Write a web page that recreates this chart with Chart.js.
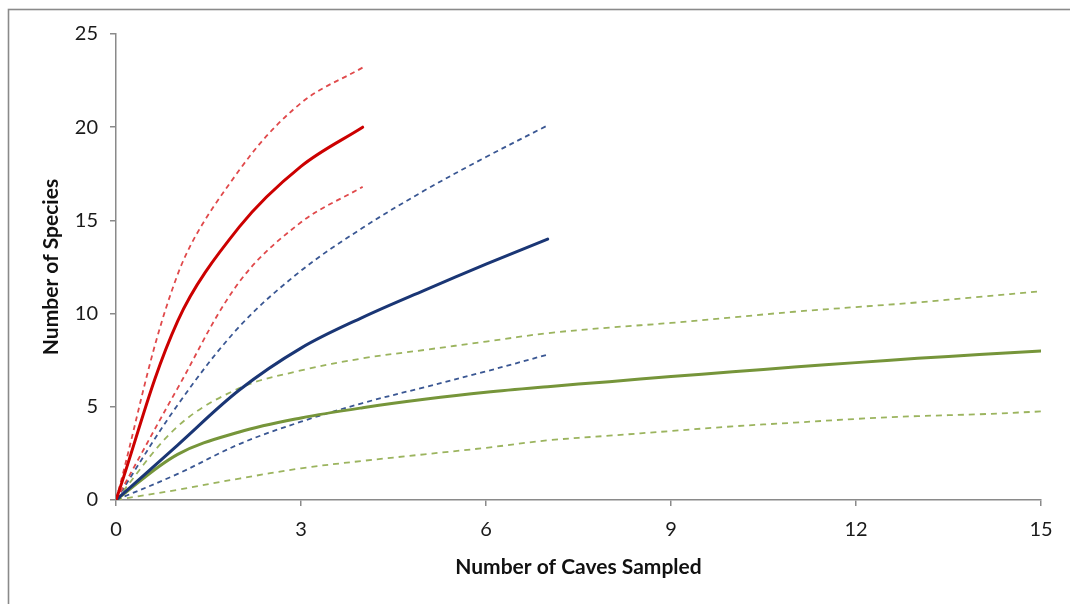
<!DOCTYPE html>
<html>
<head>
<meta charset="utf-8">
<script src="https://cdn.jsdelivr.net/npm/chart.js@4.4.1/dist/chart.umd.min.js"></script>
<style>
  html, body { margin: 0; padding: 0; background: #fff; }
  #wrap { width: 1070px; height: 604px; position: relative; }
</style>
</head>
<body>
<div id="wrap"><canvas id="c" width="1070" height="604"></canvas></div>
<script>
// ---- data ----
const xTicks = [0, 3, 6, 9, 12, 15];
const yTicks = [0, 5, 10, 15, 20, 25];

const redX     = [0, 1, 2, 3, 4];
const redMean  = [0, 9.6, 14.65, 17.9, 20.0];
const redUpper = [0, 12.1, 17.7, 21.3, 23.2];
const redLower = [0, 6.0, 11.7, 14.9, 16.8];

const blueX     = [0, 1, 2, 3, 4, 5, 6, 7];
const blueMean  = [0, 2.95, 5.9, 8.15, 9.8, 11.25, 12.65, 14.0];
const blueUpper = [0, 5.1, 9.3, 12.3, 14.6, 16.6, 18.4, 20.1];
const blueLower = [0, 1.4, 3.0, 4.2, 5.2, 6.05, 6.9, 7.8];

const greenX     = [0, 1, 2, 3, 4, 5, 6, 7, 8, 9, 10, 11, 12, 13, 14, 15];
const greenMean  = [0, 2.45, 3.65, 4.4, 4.95, 5.4, 5.78, 6.08, 6.35, 6.62, 6.88, 7.13, 7.37, 7.6, 7.8, 8.0];
const greenUpper = [0, 3.95, 6.0, 6.95, 7.6, 8.05, 8.5, 8.95, 9.25, 9.5, 9.8, 10.1, 10.35, 10.6, 10.9, 11.2];
const greenLower = [0, 0.55, 1.15, 1.7, 2.1, 2.45, 2.8, 3.2, 3.45, 3.7, 3.95, 4.15, 4.35, 4.5, 4.6, 4.75];

const xTitle = 'Number of Caves Sampled';
const yTitle = 'Number of Species';

// ---- build ----
const pts = (xs, ys) => xs.map((x, i) => ({ x: x, y: ys[i] }));
function solid(xs, ys, color) {
  return { data: pts(xs, ys), borderColor: color, borderWidth: 3, pointRadius: 0,
           tension: 0.35, fill: false, borderCapStyle: 'round' };
}
function dashed(xs, ys, color, dash) {
  return { data: pts(xs, ys), borderColor: color, borderWidth: 1.8, pointRadius: 0,
           borderDash: dash, tension: 0.35, fill: false };
}

const frame = {
  id: 'frame',
  beforeDraw(chart) {
    const ctx = chart.ctx;
    ctx.save();
    ctx.fillStyle = '#fff';
    ctx.fillRect(0, 0, chart.width, chart.height);
    ctx.strokeStyle = '#8a8a8a';
    ctx.lineWidth = 1.6;
    ctx.strokeRect(8.5, 9.5, 1200, 700);
    ctx.restore();
  }
};

const axisFont = { family: 'Lato, "Open Sans", sans-serif', size: 20 };
const titleFont = { family: 'Lato, "Open Sans", sans-serif', size: 21, weight: 'bold' };

new Chart(document.getElementById('c'), {
  type: 'line',
  data: {
    datasets: [
      solid(redX, redMean, '#cc0000'),
      solid(blueX, blueMean, '#1a3675'),
      solid(greenX, greenMean, '#76953a'),
      dashed(redX, redUpper, '#e0494b', [5, 4]),
      dashed(redX, redLower, '#e0494b', [5, 4]),
      dashed(blueX, blueUpper, '#3a5793', [5, 4]),
      dashed(blueX, blueLower, '#3a5793', [5, 4]),
      dashed(greenX, greenUpper, '#9bb45e', [6, 5]),
      dashed(greenX, greenLower, '#9bb45e', [6, 5])
    ]
  },
  options: {
    responsive: false,
    animation: false,
    layout: { padding: { left: 0, right: 29, top: 34, bottom: 0 } },
    plugins: { legend: { display: false }, tooltip: { enabled: false } },
    scales: {
      x: {
        type: 'linear', min: 0, max: 15,
        afterBuildTicks(s) { s.ticks = xTicks.map(v => ({ value: v })); },
        afterFit(s) { s.height = 104; },
        grid: { drawOnChartArea: false, drawTicks: true, tickLength: 6, color: '#8a8a8a', lineWidth: 1.5 },
        border: { display: true, color: '#8a8a8a', width: 1.5 },
        ticks: { color: '#1a1a1a', font: axisFont, padding: 12, maxRotation: 0 },
        title: { display: true, text: xTitle, color: '#111', font: titleFont, padding: { top: 0, bottom: 24 } }
      },
      y: {
        type: 'linear', min: 0, max: 25,
        afterBuildTicks(s) { s.ticks = yTicks.map(v => ({ value: v })); },
        afterFit(s) { s.width = 116; },
        grid: { drawOnChartArea: false, drawTicks: true, tickLength: 6, color: '#8a8a8a', lineWidth: 1.5 },
        border: { display: true, color: '#8a8a8a', width: 1.5 },
        ticks: { color: '#1a1a1a', font: axisFont, padding: 12 },
        title: { display: true, text: yTitle, color: '#111', font: titleFont, padding: { top: 39, bottom: 0 } }
      }
    }
  },
  plugins: [frame]
});
</script>
</body>
</html>
